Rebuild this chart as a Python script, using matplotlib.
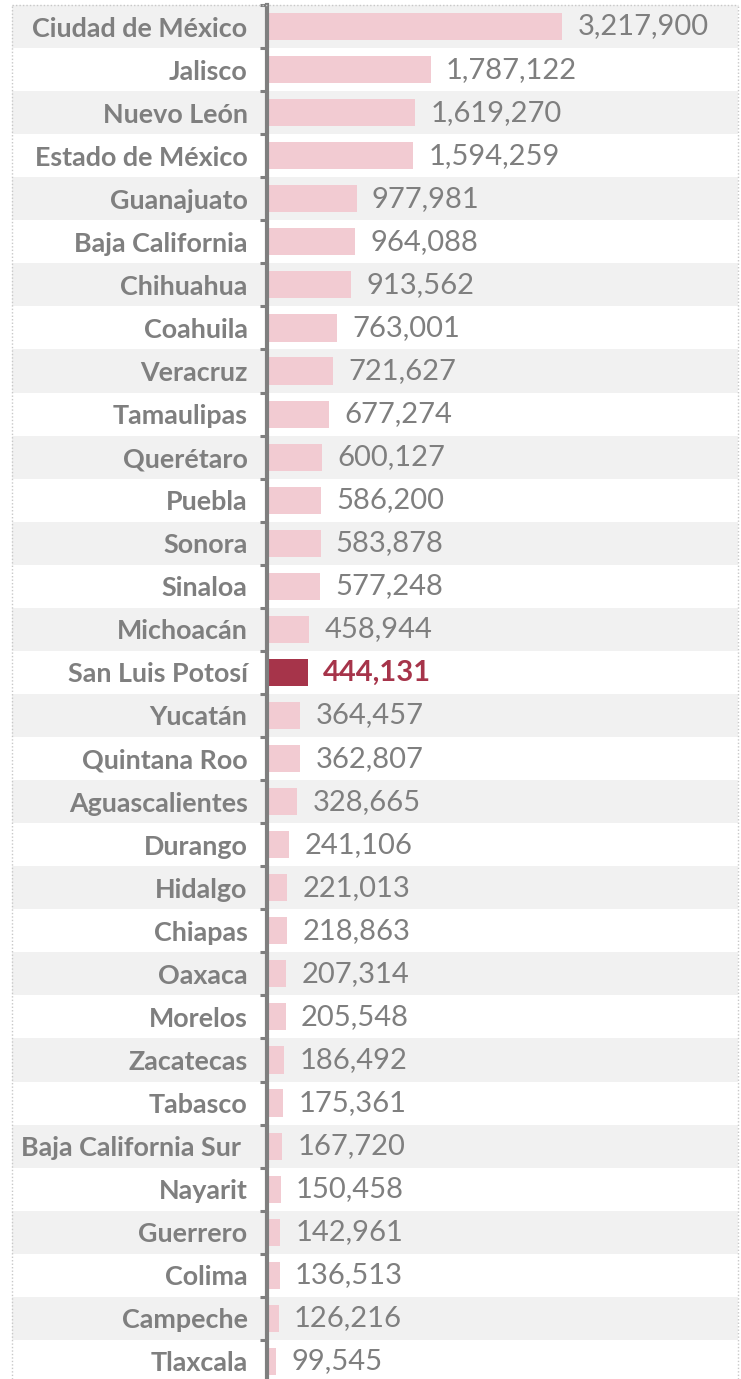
import numpy as np
import matplotlib as mpl
mpl.use('Agg')
from matplotlib import pyplot as plt

estados = ['Ciudad de México', 'Jalisco', 'Nuevo León', 'Estado de México',
           'Guanajuato', 'Baja California', 'Chihuahua', 'Coahuila', 'Veracruz',
           'Tamaulipas', 'Querétaro', 'Puebla', 'Sonora', 'Sinaloa', 'Michoacán',
           'San Luis Potosí', 'Yucatán', 'Quintana Roo', 'Aguascalientes',
           'Durango', 'Hidalgo', 'Chiapas', 'Oaxaca', 'Morelos', 'Zacatecas',
           'Tabasco', 'Baja California Sur ', 'Nayarit', 'Guerrero', 'Colima',
           'Campeche', 'Tlaxcala']
valores = [3217900, 1787122, 1619270, 1594259, 977981, 964088, 913562, 763001,
           721627, 677274, 600127, 586200, 583878, 577248, 458944, 444131,
           364457, 362807, 328665, 241106, 221013, 218863, 207314, 205548,
           186492, 175361, 167720, 150458, 142961, 136513, 126216, 99545]
destacado = 'San Luis Potosí'

gris = '#7f7f7f'
rosa = '#f2cbd2'
guinda = '#a6344a'

plt.rcParams['font.family'] = ['Lato', 'DejaVu Sans']

W, H = 741, 1379
f = plt.figure(figsize=(W / 100, H / 100), dpi=100)

n = len(estados)
y = np.arange(n)
top_px, row_px = 5, 43.06
bot_px = top_px + n * row_px

# franjas de fondo a todo lo ancho
bg = f.add_axes([12 / W, 1 - bot_px / H, (738 - 12) / W, (bot_px - top_px) / H])
bg.set_xlim(0, 1)
bg.set_ylim(n - 0.5, -0.5)
for i in range(n):
    if i % 2 == 0:
        bg.axhspan(i - 0.5, i + 0.5, color='#f1f1f1', lw=0)
bg.axis('off')

# marco punteado
punteado = dict(transform=f.transFigure, color='#c8c8c8', ls=(0, (1, 1.5)), lw=1)
f.add_artist(plt.Line2D([12 / W, 12 / W], [0, 1 - top_px / H], **punteado))
f.add_artist(plt.Line2D([738 / W, 738 / W], [0, 1 - top_px / H], **punteado))
f.add_artist(plt.Line2D([12 / W, 738 / W], [1 - top_px / H, 1 - top_px / H], **punteado))

ax = f.add_axes([267 / W, 1 - bot_px / H, (738 - 267) / W, (bot_px - top_px) / H])
ax.patch.set_alpha(0)
colores = [guinda if e == destacado else rosa for e in estados]
barras = ax.barh(y, valores, height=0.63, color=colores)
ax.set_xlim(0, 471 / (295 / 3217900))
ax.set_ylim(n - 0.5, -0.5)

etiq = ax.bar_label(barras, labels=[f'{v:,}' for v in valores], padding=11,
                    fontsize=21, color=gris)
for t, e in zip(etiq, estados):
    if e == destacado:
        t.set_color(guinda)
        t.set_fontweight('bold')

ax.set_yticks(y)
ax.set_yticklabels(estados, fontsize=19.4, fontweight='bold', color=gris)
ax.tick_params(axis='y', which='major', length=0, pad=14)
ax.set_yticks(np.arange(n + 1) - 0.5, minor=True)
ax.tick_params(axis='y', which='minor', length=5, width=2.2, color=gris, direction='out')
ax.set_xticks([])
for s in ['top', 'right', 'bottom']:
    ax.spines[s].set_visible(False)
ax.spines['left'].set_color(gris)
ax.spines['left'].set_linewidth(3)

f.savefig('out.png', dpi=100)
